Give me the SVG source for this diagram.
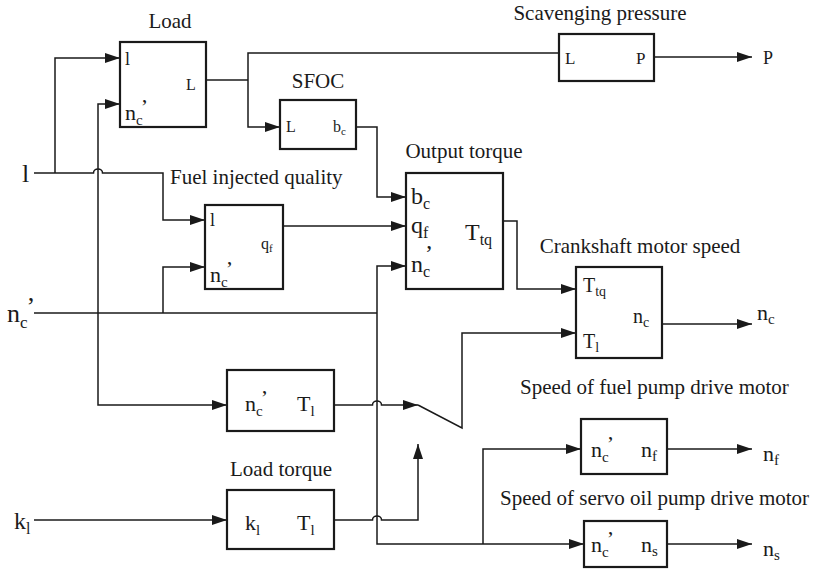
<svg xmlns="http://www.w3.org/2000/svg" width="814" height="571" viewBox="0 0 814 571">
<style>
.box{fill:#fff;stroke:#1a1a1a;stroke-width:2.2}
.ln{fill:none;stroke:#1a1a1a;stroke-width:1.5}
.tx{font-family:'Liberation Serif','DejaVu Serif',serif;fill:#1a1a1a}
.title{font-size:21px}
</style>
<defs>
<marker id="ah" markerWidth="15" markerHeight="10" refX="15" refY="5" orient="auto" markerUnits="userSpaceOnUse"><path d="M0,0 L15,5 L0,10 z" fill="#1a1a1a"/></marker>
</defs>
<rect width="814" height="571" fill="#fff"/>

<g id="connectors">
<path class="ln" d="M34,173 H93.5 a4.5,4 0 0 1 9,0 H163 V220 H205" marker-end="url(#ah)"/>
<path class="ln" d="M55,173 V58 H120" marker-end="url(#ah)"/>
<path class="ln" d="M34,313 H377"/>
<path class="ln" d="M98,313 V104 H120" marker-end="url(#ah)"/>
<path class="ln" d="M98,313 V405 H227" marker-end="url(#ah)"/>
<path class="ln" d="M163,313 V267 H205" marker-end="url(#ah)"/>
<path class="ln" d="M377,313 V266 H406" marker-end="url(#ah)"/>
<path class="ln" d="M377,313 V544 H584" marker-end="url(#ah)"/>
<path class="ln" d="M483,544 V449 H581" marker-end="url(#ah)"/>
<path class="ln" d="M206,80 H248"/>
<path class="ln" d="M559,53 H248 V127 H280" marker-end="url(#ah)"/>
<path class="ln" d="M356,127 H377 V197 H406" marker-end="url(#ah)"/>
<path class="ln" d="M283,226 H406" marker-end="url(#ah)"/>
<path class="ln" d="M503,221 H517 V289 H576" marker-end="url(#ah)"/>
<path class="ln" d="M654,57 H752" marker-end="url(#ah)"/>
<path class="ln" d="M662,324 H752" marker-end="url(#ah)"/>
<path class="ln" d="M667,449 H752" marker-end="url(#ah)"/>
<path class="ln" d="M667,544 H752" marker-end="url(#ah)"/>
<path class="ln" d="M334,405 H372.5 a4.5,4 0 0 1 9,0 H418" marker-end="url(#ah)"/>
<path class="ln" d="M418,405 L462,428 V333 H576" marker-end="url(#ah)"/>
<path class="ln" d="M334,520 H372.5 a4.5,4 0 0 1 9,0 H418 V444" marker-end="url(#ah)"/>
<path class="ln" d="M34,520 H227" marker-end="url(#ah)"/>
</g>

<g class="tx" font-family="'Liberation Serif', 'DejaVu Serif', serif">
<g id="inputs">
<text x="22" y="182" font-size="26">l</text>
<text x="7" y="322" font-size="26">n<tspan font-size="17" dy="6">c</tspan><tspan dx="-1" dy="-13">’</tspan></text>
<text x="14" y="529" font-size="24">k<tspan font-size="16" dy="5">l</tspan></text>
</g>

<g id="outputs">
<text x="763" y="64" font-size="18">P</text>
<text x="757" y="320" font-size="22">n<tspan font-size="15" dy="4">c</tspan></text>
<text x="763" y="461" font-size="22">n<tspan font-size="15" dy="4">f</tspan></text>
<text x="763" y="556" font-size="22">n<tspan font-size="15" dy="4">s</tspan></text>
</g>

<g id="load">
<text class="title" x="170" y="28" text-anchor="middle">Load</text>
<rect class="box" x="120" y="42" width="86" height="85"/>
<text x="125" y="65" font-size="18">l</text>
<text x="186" y="90" font-size="16">L</text>
<text x="125" y="120" font-size="22">n<tspan font-size="15" dy="5">c</tspan><tspan dx="-2" dy="-11">’</tspan></text>
</g>

<g id="scavenging">
<text class="title" x="600" y="20" text-anchor="middle">Scavenging pressure</text>
<rect class="box" x="559" y="34" width="95" height="47"/>
<text x="565" y="64" font-size="17">L</text>
<text x="636" y="64" font-size="17">P</text>
</g>

<g id="sfoc">
<text class="title" x="318" y="88" text-anchor="middle">SFOC</text>
<rect class="box" x="280" y="100" width="76" height="49"/>
<text x="286" y="132" font-size="16">L</text>
<text x="333" y="132" font-size="16">b<tspan font-size="11" dy="3">c</tspan></text>
</g>

<g id="fuel">
<text class="title" x="170" y="184">Fuel injected quality</text>
<rect class="box" x="205" y="205" width="78" height="84"/>
<text x="210" y="226" font-size="18">l</text>
<text x="261" y="249" font-size="16">q<tspan font-size="11" dy="3">f</tspan></text>
<text x="210" y="282" font-size="22">n<tspan font-size="15" dy="5">c</tspan><tspan dx="-2" dy="-11">’</tspan></text>
</g>

<g id="output-torque">
<text class="title" x="464" y="158" text-anchor="middle">Output torque</text>
<rect class="box" x="406" y="173" width="97" height="116"/>
<text x="411" y="204" font-size="24">b<tspan font-size="16" dy="5">c</tspan></text>
<text x="411" y="233" font-size="24">q<tspan font-size="16" dy="5">f</tspan></text>
<text x="411" y="272" font-size="24">n<tspan font-size="16" dy="5">c</tspan><tspan dx="-5" dy="-16">’</tspan></text>
<text x="465" y="240" font-size="24">T<tspan font-size="16" dy="5">tq</tspan></text>
</g>

<g id="crankshaft">
<text class="title" x="640" y="253" text-anchor="middle">Crankshaft motor speed</text>
<rect class="box" x="576" y="267" width="86" height="91"/>
<text x="583" y="292" font-size="20">T<tspan font-size="14" dy="4">tq</tspan></text>
<text x="633" y="323" font-size="20">n<tspan font-size="14" dy="4">c</tspan></text>
<text x="583" y="348" font-size="20">T<tspan font-size="14" dy="4">l</tspan></text>
</g>

<g id="load-torque-nc">
<rect class="box" x="227" y="370" width="107" height="61"/>
<text x="245" y="411" font-size="22">n<tspan font-size="15" dy="5">c</tspan><tspan dx="-2" dy="-11">’</tspan></text>
<text x="297" y="411" font-size="22">T<tspan font-size="15" dy="5">l</tspan></text>
</g>

<g id="load-torque">
<text class="title" x="230" y="476">Load torque</text>
<rect class="box" x="227" y="490" width="107" height="59"/>
<text x="245" y="530" font-size="22">k<tspan font-size="15" dy="5">l</tspan></text>
<text x="297" y="530" font-size="22">T<tspan font-size="15" dy="5">l</tspan></text>
</g>

<g id="fuel-pump">
<text class="title" x="520" y="394">Speed of fuel pump drive motor</text>
<rect class="box" x="581" y="419" width="86" height="55"/>
<text x="591" y="457" font-size="22">n<tspan font-size="15" dy="5">c</tspan><tspan dx="-2" dy="-11">’</tspan></text>
<text x="641" y="457" font-size="22">n<tspan font-size="15" dy="4">f</tspan></text>
</g>

<g id="servo-pump">
<text class="title" x="500" y="505">Speed of servo oil pump drive motor</text>
<rect class="box" x="584" y="521" width="83" height="46"/>
<text x="591" y="552" font-size="22">n<tspan font-size="15" dy="5">c</tspan><tspan dx="-2" dy="-11">’</tspan></text>
<text x="641" y="552" font-size="22">n<tspan font-size="15" dy="4">s</tspan></text>
</g>
</g>
</svg>
